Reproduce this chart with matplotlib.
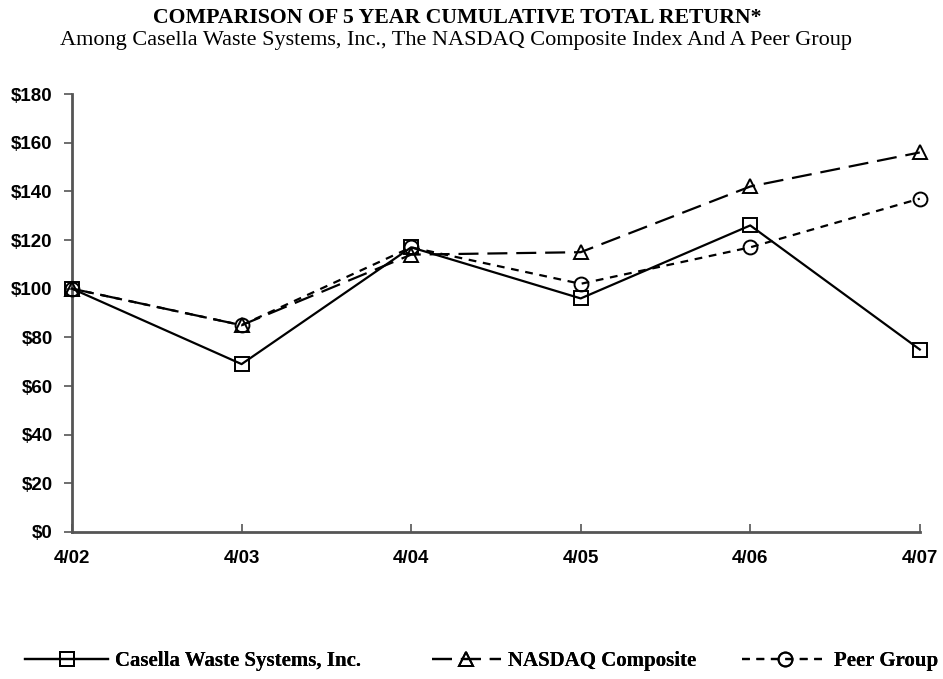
import numpy as np
import matplotlib
matplotlib.use('Agg')
from matplotlib import pyplot as plt

# -- data
years = ['4/02', '4/03', '4/04', '4/05', '4/06', '4/07']
casella = [100, 69, 117, 96, 126, 75]
nasdaq = [100, 85, 114, 115, 142, 156]
peer = [100, 85, 117, 102, 117, 137]
yticks = [0, 20, 40, 60, 80, 100, 120, 140, 160, 180]
# --

serif = ['Liberation Serif', 'DejaVu Serif']
sans = ['Liberation Sans', 'DejaVu Sans']

fig = plt.figure(figsize=(9.43, 6.79), dpi=100)
ax = fig.add_axes([0.0764, 0.2165, 0.899, 0.645])

x = np.arange(len(years))
kw = dict(color='k', lw=1.6, markersize=10, markerfacecolor='none',
          markeredgewidth=1.4, clip_on=False, zorder=3)
l1, = ax.plot(x, casella, '-', marker='s', label='Casella Waste Systems, Inc.', **kw)
l2, = ax.plot(x, nasdaq, marker='^', dashes=(9, 4), label='NASDAQ Composite', **kw)
l3, = ax.plot(x, peer, marker='o', dashes=(3.5, 3), label='Peer Group', **kw)

ax.set_xlim(0, len(years) - 1)
ax.set_ylim(0, 180)
ax.set_xticks(x)
ax.set_xticklabels(years)
ax.set_yticks(yticks)
ax.set_yticklabels(['${}'.format(v) for v in yticks])

for s in ['top', 'right']:
    ax.spines[s].set_visible(False)
for s in ['left', 'bottom']:
    ax.spines[s].set_color('#555555')
    ax.spines[s].set_linewidth(2)

ax.tick_params(axis='y', direction='out', length=6, width=1.2, color='#555555', pad=8)
ax.tick_params(axis='x', direction='in', length=6, width=1.2, color='#555555', pad=13)
for lab in ax.get_xticklabels() + ax.get_yticklabels():
    lab.set_family(sans)
    lab.set_fontweight('bold')
    lab.set_fontsize(13.5)

fig.text(0.4846, 0.9735, 'COMPARISON OF 5 YEAR CUMULATIVE TOTAL RETURN*',
         ha='center', va='center', family=serif, fontweight='bold', fontsize=15.7)
fig.text(0.484, 0.941, 'Among Casella Waste Systems, Inc., The NASDAQ Composite Index And A Peer Group',
         ha='center', va='center', family=serif, fontsize=16)

# one legend per entry so each sits where it does in the reference
for line, x0, hlen in [(l1, 25, 4.0), (l2, 432, 3.3), (l3, 742, 4.1)]:
    lg = fig.legend(handles=[line], loc='center left', bbox_to_anchor=(x0 / 943., 0.026),
                    frameon=False, borderpad=0, borderaxespad=0,
                    handlelength=hlen, handletextpad=0.33,
                    prop=dict(family=serif, weight='bold', size=15))
    fig.add_artist(lg)

plt.savefig('out.png', dpi=100)
